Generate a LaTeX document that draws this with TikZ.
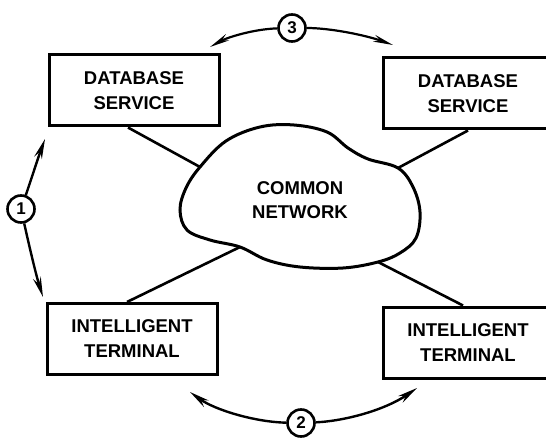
\documentclass[tikz,border=0pt]{standalone}
\usepackage{fontspec}
\setmainfont{Liberation Sans}
\usetikzlibrary{arrows.meta}

\begin{document}
\begin{tikzpicture}[x=1pt,y=-1pt,
  box/.style={draw,line width=3pt,minimum width=170pt,minimum height=71pt,
    align=center,font=\fontsize{18.5}{25}\selectfont\bfseries},
  num/.style={draw,circle,line width=2.6pt,minimum size=27pt,inner sep=0pt,
    font=\fontsize{17}{17}\selectfont\bfseries},
  link/.style={line width=2.6pt},
  flow/.style={line width=2.4pt,-{Stealth[length=20pt,width=8pt]}},
  query/.style={line width=2.2pt,-{Stealth[open,length=20pt,width=7pt]}}]
\useasboundingbox (0,0) rectangle (546,438);

% services and terminals
\node[box] (dbL) at (134,90.5) {DATABASE\\SERVICE};
\node[box] (dbR) at (468,93.5) {DATABASE\\SERVICE};
\node[box] (itL) at (132,339) {INTELLIGENT\\TERMINAL};
\node[box] (itR) at (468,342.5) {INTELLIGENT\\TERMINAL};

% the network cloud
\coordinate (netTL) at (200,167);
\coordinate (netTR) at (398,168);
\coordinate (netBR) at (378,262);
\coordinate (netBL) at (240,247);
\draw[line width=3pt] plot[smooth cycle,tension=0.6] coordinates {
  (netTL) (226,141) (260,127) (294,125) (327,132) (348,148) (368,159)
  (netTR) (413,187) (420,212) (416,238) (400,253)
  (netBR) (343,268) (300,267) (267,260)
  (netBL) (210,240) (187,230) (180,210) (186,188)};
\node[align=center,font=\fontsize{18.5}{24}\selectfont\bfseries] (net) at (300,200) {COMMON\\NETWORK};

\draw[link] ([xshift=-6pt]dbL.south) -- (netTL);
\draw[link] (dbR.south) -- (netTR);
\draw[link] ([xshift=-5pt]itL.north) -- (netBL);
\draw[link] ([xshift=-5pt]itR.north) -- (netBR);

% numbered exchanges
\node[num] (n1) at (21,209) {1};
\node[num] (n2) at (301,423) {2};
\node[num] (n3) at (292,28) {3};

\coordinate (t1a) at (45,139);
\coordinate (t1b) at (43,297);
\coordinate (t2a) at (190,392);
\coordinate (t2b) at (417,388);
\coordinate (t3a) at (210,47);
\coordinate (t3b) at (393,45);

\draw[flow] (n1) .. controls (31,180) and (38,158) .. (t1a);
\draw[flow] (n1) .. controls (29,245) and (36,275) .. (t1b);
\draw[flow] (n2) .. controls (255,422) and (215,410) .. (t2a);
\draw[flow] (n2) .. controls (345,421) and (385,410) .. (t2b);
\draw[query] (n3) .. controls (255,29) and (228,37) .. (t3a);
\draw[query] (n3) .. controls (330,28) and (365,35) .. (t3b);
\end{tikzpicture}
\end{document}
